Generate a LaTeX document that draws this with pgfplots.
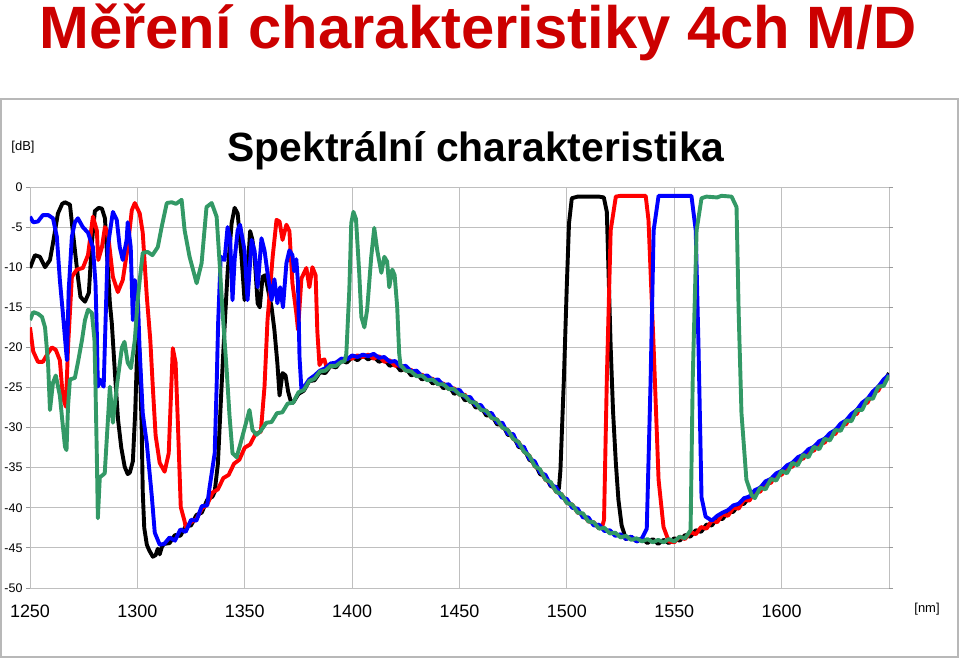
\documentclass[border=0pt]{standalone}
\usepackage{fontspec}
\setmainfont{Liberation Sans}
\usepackage{pgfplots}
\pgfplotsset{compat=1.18}
\definecolor{titlered}{RGB}{204,0,0}
\definecolor{sgreen}{RGB}{51,153,102}
\definecolor{sred}{RGB}{255,0,0}
\definecolor{sblue}{RGB}{0,0,255}
\begin{document}
\begin{tikzpicture}
\path (0,0) rectangle (960bp,660bp);
\draw[black!28, line width=1.5bp] (1bp,3bp) rectangle (958bp,561bp);
\node[text=titlered, font=\bfseries\fontsize{60}{60}\selectfont, anchor=base, inner sep=0pt] at (478bp,611bp) {Měření charakteristiky 4ch M/D};
\node[font=\bfseries\fontsize{41}{41}\selectfont, anchor=base] at (476bp,498bp) {Spektrální charakteristika};
\node[font=\fontsize{13}{13}\selectfont, anchor=base] at (23bp,509bp) {[dB]};
\node[font=\fontsize{13}{13}\selectfont, anchor=base] at (927bp,47bp) {[nm]};
\begin{axis}[
  at={(30bp,72bp)}, anchor=south west,
  scale only axis, width=859bp, height=401bp,
  xmin=1250, xmax=1650, ymin=-50, ymax=0,
  xtick={1250,1300,...,1650},
  xticklabels={1250,1300,1350,1400,1450,1500,1550,1600,{}},
  ytick={-50,-45,...,0},
  yticklabels={-50,-45,-40,-35,-30,-25,-20,-15,-10,-5,0},
  grid=major, major grid style={line width=0.8bp, draw=black!25},
  axis line style={draw=none},
  xtick style={draw=none},
  ytick style={draw=black!40, line width=0.8bp},
  tick align=outside, major tick length=4bp,
  xticklabel style={font=\fontsize{18}{18}\selectfont, yshift=-9bp},
  yticklabel style={font=\fontsize{12.5}{12.5}\selectfont},
  every axis plot/.append style={line width=3.9bp, line join=round, mark=none},
]
% black
\addplot[black] coordinates {
(1250,-10.1)(1252.3,-8.5)(1254.6,-8.7)(1257,-10)(1259.3,-9.1)(1260.7,-7)(1263,-3.3)(1265,-2.1)(1266.3,-1.9)(1268.6,-2.2)
(1270,-5.7)(1272.3,-11.2)(1273.5,-13.7)(1275.6,-14.3)(1277.4,-13.2)(1278.8,-7)(1280.2,-3.0)(1282,-2.6)(1283.5,-2.7)(1284.9,-3.9)
(1285.8,-8.0)(1287.2,-14.5)(1288.1,-17)(1289.5,-23)(1291,-29)(1292.5,-32.5)(1294.1,-34.9)(1295.5,-35.8)(1296.5,-35.6)(1297.9,-34.2)
(1299,-28)(1299.7,-22)(1300.3,-19)(1301,-20.5)(1302,-30)(1302.5,-38)(1303.2,-42.5)(1304.4,-44.6)(1305.5,-45.3)(1307.2,-46.1)
(1308.5,-45.9)(1309.5,-45.1)(1310.4,-45.8)(1311.5,-44.8)(1312.5,-44.5)(1315,-44.4)(1317.5,-43.4)(1320,-43.5)(1322.5,-42.3)(1325,-42.2)
(1327.5,-40.9)(1330,-40.6)(1332.5,-39.0)(1335,-38.6)(1336,-38.0)(1337.5,-34.5)(1339,-26)(1340.5,-18)(1342,-10.7)(1343.9,-4.5)
(1345.3,-2.6)(1346.7,-3.3)(1348.5,-8.7)(1349.9,-14.1)(1351.3,-10.7)(1352.5,-5.5)(1353.5,-6.5)(1354.6,-8.7)(1356,-14.5)(1357,-15.0)
(1358.3,-11.2)(1359.5,-11.0)(1361,-13)(1362.5,-15)(1363.8,-17.8)(1365.2,-22)(1366.2,-26)(1367.6,-23.2)(1369,-23.5)(1370.2,-25.5)
(1371.3,-26.6)(1372.5,-26.9)(1375,-25.8)(1377.5,-25.4)(1380,-24.2)(1382.5,-24.1)(1385,-23.1)(1387.5,-23.2)(1390,-22.3)(1392.5,-22.5)
(1395,-21.6)(1397.5,-21.9)(1400,-21.2)(1402.5,-21.6)(1405,-21.0)(1407.5,-21.5)(1410,-21.1)(1412.5,-21.8)(1415,-21.5)(1417.5,-22.3)
(1420,-22.0)(1422.5,-22.9)(1425,-22.6)(1427.5,-23.5)(1430,-23.2)(1432.5,-24.0)(1435,-23.7)(1437.5,-24.5)(1440,-24.2)(1442.5,-25.1)
(1445,-24.8)(1447.5,-25.8)(1450,-25.5)(1452.5,-26.6)(1455,-26.4)(1457.5,-27.5)(1460,-27.4)(1462.5,-28.5)(1465,-28.4)(1467.5,-29.6)
(1470,-29.6)(1472.5,-30.9)(1475,-31.0)(1477.5,-32.4)(1480,-32.6)(1482.5,-34.0)(1485,-34.4)(1487.5,-35.8)(1490,-36.1)(1492.5,-37.3)
(1495,-37.5)(1496.3,-37.6)(1497,-35.3)(1498.6,-24)(1500,-12)(1501,-4.5)(1502.3,-1.4)(1505,-1.2)(1510,-1.2)(1515,-1.2)
(1517.2,-1.3)(1518.6,-3.1)(1520.4,-20)(1521.5,-28)(1522.8,-34.4)(1524,-39)(1525.5,-42.2)(1527.5,-43.9)(1530,-43.6)(1532.5,-44.2)
(1535,-43.8)(1537.5,-44.4)(1540,-43.9)(1542.5,-44.5)(1545,-44.0)(1547.5,-44.4)(1550,-43.8)(1552.5,-44.1)(1555,-43.4)(1557.5,-43.6)
(1560,-42.8)(1562.5,-43.0)(1565,-42.1)(1567.5,-42.2)(1570,-41.3)(1572.5,-41.4)(1575,-40.5)(1577.5,-40.5)(1580,-39.6)(1582.5,-39.5)
(1585,-38.6)(1587.5,-38.5)(1590,-37.5)(1592.5,-37.4)(1595,-36.4)(1597.5,-36.3)(1600,-35.4)(1602.5,-35.3)(1605,-34.4)(1607.5,-34.3)
(1610,-33.4)(1612.5,-33.3)(1615,-32.4)(1617.5,-32.3)(1620,-31.4)(1622.5,-31.2)(1625,-30.3)(1627.5,-30.1)(1630,-29.1)(1632.5,-28.8)
(1635,-27.8)(1637.5,-27.5)(1640,-26.4)(1642.5,-26.0)(1645,-24.9)(1647.5,-24.5)(1650,-23.2)
};
% red
\addplot[sred] coordinates {
(1250,-17.5)(1251.5,-20.5)(1253.7,-21.8)(1256,-21.8)(1258.4,-20.7)(1260.2,-20.0)(1262,-20.3)(1263.9,-21.6)(1265.3,-26.2)(1266.7,-27.4)
(1267.7,-20)(1269.5,-11.2)(1271.8,-10.3)(1274.6,-10.1)(1277,-8.5)(1279.3,-3.7)(1281.1,-5.4)(1281.8,-9.1)(1283.5,-7.5)(1284.9,-5.0)
(1286.2,-5.6)(1288.6,-11.2)(1290.9,-13.1)(1293.2,-11.6)(1295.5,-7.5)(1297.4,-2.9)(1298.8,-2.0)(1301.1,-3.3)(1302.5,-5.7)(1304.4,-13.7)
(1306,-19)(1307.2,-25)(1308.5,-31)(1310.4,-34.4)(1312.7,-35.5)(1314.6,-33.2)(1315.8,-24.9)(1316.5,-20.1)(1317.8,-21.9)(1318.8,-29)
(1320.2,-39.9)(1322,-41.7)(1322.5,-42.4)(1325,-41.8)(1327.5,-41.4)(1330,-40.1)(1332.5,-39.6)(1335,-38.1)(1337.5,-37.7)(1340,-36.3)
(1342.5,-35.9)(1345,-34.5)(1347.5,-34.0)(1350,-32.5)(1352.5,-32.1)(1355,-30.8)(1357.5,-30.5)(1359.2,-24.9)(1360.6,-16.6)(1363,-8.7)
(1364.8,-4.1)(1366.2,-4.3)(1367.6,-6.6)(1369.4,-4.7)(1370.8,-5.5)(1372.2,-12)(1374,-15.7)(1374.8,-17.8)(1376.4,-11.4)(1378.7,-10.1)
(1380.1,-12.5)(1381.5,-10)(1383,-11)(1383.8,-18)(1384.8,-22.2)(1386,-21.6)(1387.1,-21.5)(1388.2,-22.6)(1390,-22.3)(1392.5,-21.9)
(1395,-21.8)(1397.5,-21.3)(1400,-21.4)(1402.5,-21.0)(1405,-21.2)(1407.5,-20.9)(1410,-21.4)(1412.5,-21.1)(1415,-21.8)(1417.5,-21.6)
(1420,-22.3)(1422.5,-22.2)(1425,-22.9)(1427.5,-22.8)(1430,-23.5)(1432.5,-23.4)(1435,-24.0)(1437.5,-23.9)(1440,-24.6)(1442.5,-24.5)
(1445,-25.2)(1447.5,-25.1)(1450,-25.9)(1452.5,-25.9)(1455,-26.8)(1457.5,-26.9)(1460,-27.8)(1462.5,-27.9)(1465,-28.8)(1467.5,-29.0)
(1470,-30.0)(1472.5,-30.3)(1475,-31.4)(1477.5,-31.8)(1480,-33.0)(1482.5,-33.5)(1485,-34.8)(1487.5,-35.3)(1490,-36.5)(1492.5,-36.9)
(1495,-38.0)(1497.5,-38.3)(1500,-39.4)(1502.5,-39.6)(1505,-40.6)(1507.5,-40.8)(1510,-41.7)(1512.5,-41.8)(1515,-42.6)(1516.5,-42.3)
(1517.3,-41.5)(1518.6,-24)(1520.4,-5.4)(1522.8,-1.2)(1525,-1.1)(1530,-1.1)(1536.7,-1.1)(1538,-4.1)(1540.4,-20)(1542.7,-36.5)
(1545,-42.4)(1547.5,-44.2)(1550,-44.3)(1552.5,-43.6)(1555,-43.9)(1557.5,-43.0)(1560,-43.3)(1562.5,-42.4)(1565,-42.6)(1567.5,-41.6)
(1570,-41.8)(1572.5,-40.8)(1575,-41.0)(1577.5,-40.0)(1580,-40.1)(1582.5,-39.0)(1585,-39.1)(1587.5,-38.0)(1590,-38.0)(1592.5,-36.9)
(1595,-36.9)(1597.5,-35.8)(1600,-35.9)(1602.5,-34.8)(1605,-34.9)(1607.5,-33.8)(1610,-33.9)(1612.5,-32.8)(1615,-32.9)(1617.5,-31.8)
(1620,-31.9)(1622.5,-30.8)(1625,-30.8)(1627.5,-29.6)(1630,-29.6)(1632.5,-28.4)(1635,-28.3)(1637.5,-27.0)(1640,-26.9)(1642.5,-25.6)
(1645,-25.4)(1647.5,-24.1)(1650,-23.8)
};
% blue
\addplot[sblue] coordinates {
(1250,-3.7)(1251.5,-4.4)(1253.7,-4.3)(1256,-3.5)(1258.5,-3.5)(1260.7,-3.9)(1262.5,-6.2)(1263.9,-11.6)(1265.3,-15.7)(1266.5,-19.5)
(1267.2,-21.6)(1268,-13)(1269.5,-6.2)(1270.9,-4.4)(1272.3,-3.9)(1274.6,-5.0)(1277,-5.7)(1279.3,-7.5)(1280.5,-12)(1281.1,-18)
(1281.6,-24.9)(1282.5,-24)(1283.5,-24.5)(1284.3,-24.9)(1285.3,-15.7)(1286.2,-7.5)(1288.6,-3.1)(1290.4,-4.1)(1291.8,-7.5)(1293.2,-9.1)
(1295,-6.6)(1295.5,-4.4)(1296.9,-7.5)(1297.9,-16.6)(1298.8,-11.6)(1300.2,-13.7)(1301,-20)(1302.5,-28.2)(1304.4,-32)(1306.7,-38.5)
(1308.1,-43.1)(1310.4,-44.6)(1312.5,-44.5)(1315,-43.7)(1317.5,-44.1)(1320,-42.7)(1322.5,-43.0)(1325,-41.5)(1327.5,-41.6)(1330,-39.8)
(1332.5,-39.7)(1333.6,-37.5)(1336,-33.2)(1336.9,-24.9)(1337.6,-17)(1338.8,-8.7)(1340.6,-9.1)(1342,-5.0)(1343.2,-6.5)(1344.3,-14.1)
(1345.3,-9)(1346.7,-5.4)(1347.8,-4.7)(1349.9,-7.9)(1351.3,-14.1)(1353.2,-6.6)(1354.6,-8.0)(1356,-12.5)(1357.8,-6.4)(1359.2,-7.9)
(1360.6,-10.7)(1362.5,-14.1)(1363.8,-11.5)(1365.2,-14.5)(1366.5,-12.5)(1367.8,-15)(1369.4,-9.5)(1370.8,-7.9)(1372.2,-8.5)(1373,-10.5)
(1374,-9.0)(1374.8,-12)(1375.5,-21.2)(1376.4,-25.3)(1377.5,-25.0)(1380,-24.0)(1382.5,-23.5)(1385,-22.9)(1387.5,-22.6)(1390,-22.0)
(1392.5,-21.9)(1395,-21.4)(1397.5,-21.5)(1400,-21.0)(1402.5,-21.2)(1405,-20.9)(1407.5,-21.1)(1410,-20.8)(1412.5,-21.3)(1415,-21.2)
(1417.5,-21.8)(1420,-21.7)(1422.5,-22.4)(1425,-22.3)(1427.5,-23.0)(1430,-22.9)(1432.5,-23.6)(1435,-23.5)(1437.5,-24.1)(1440,-24.0)
(1442.5,-24.7)(1445,-24.6)(1447.5,-25.4)(1450,-25.3)(1452.5,-26.2)(1455,-26.2)(1457.5,-27.2)(1460,-27.2)(1462.5,-28.2)(1465,-28.2)
(1467.5,-29.4)(1470,-29.4)(1472.5,-30.8)(1475,-30.8)(1477.5,-32.3)(1480,-32.4)(1482.5,-33.9)(1485,-34.2)(1487.5,-35.6)(1490,-35.9)
(1492.5,-37.2)(1495,-37.4)(1497.5,-38.7)(1500,-38.9)(1502.5,-40.0)(1505,-40.1)(1507.5,-41.2)(1510,-41.2)(1512.5,-42.2)(1515,-42.1)
(1517.5,-42.9)(1520,-42.8)(1522.5,-43.5)(1525,-43.3)(1527.5,-43.9)(1530,-43.6)(1532.5,-44.2)(1535,-43.8)(1537.2,-42.6)(1539,-24)
(1540.4,-5.4)(1542.7,-1.1)(1545,-1.1)(1550,-1.1)(1555,-1.1)(1558,-1.1)(1560,-5.4)(1561.3,-20)(1562.7,-38.7)(1564.6,-41.1)
(1567.5,-41.6)(1570,-41.0)(1572.5,-40.6)(1575,-40.3)(1577.5,-39.7)(1580,-39.5)(1582.5,-38.8)(1585,-38.6)(1587.5,-37.8)(1590,-37.5)
(1592.5,-36.7)(1595,-36.4)(1597.5,-35.7)(1600,-35.4)(1602.5,-34.7)(1605,-34.4)(1607.5,-33.7)(1610,-33.4)(1612.5,-32.7)(1615,-32.4)
(1617.5,-31.7)(1620,-31.4)(1622.5,-30.7)(1625,-30.3)(1627.5,-29.5)(1630,-29.1)(1632.5,-28.3)(1635,-27.8)(1637.5,-26.9)(1640,-26.4)
(1642.5,-25.5)(1645,-24.9)(1647.5,-24.0)(1650,-23.4)
};
% green
\addplot[sgreen] coordinates {
(1250,-16.6)(1251.5,-15.6)(1253.7,-15.8)(1255.6,-16.2)(1257,-17.5)(1258.4,-21.9)(1259.3,-27.8)(1260.7,-24.4)(1262,-23.5)(1263.9,-26)
(1265,-29)(1266.3,-32.4)(1267,-32.8)(1267.7,-27.4)(1268.6,-24.0)(1270.9,-23.8)(1272.3,-21.9)(1274.2,-19.1)(1275.6,-16.6)(1277,-15.3)
(1278.8,-15.7)(1280,-19)(1280.5,-24.9)(1281.1,-33.2)(1281.6,-41.3)(1282.5,-36.2)(1283.5,-36.0)(1284.8,-35.7)(1285.8,-31.2)(1287.2,-24.9)
(1288.6,-29.4)(1290.4,-24.9)(1292.8,-20.0)(1294,-19.3)(1295.5,-21.9)(1297,-22.6)(1298.8,-19.1)(1300.2,-14)(1301.1,-11.6)(1302.5,-8.2)
(1304.8,-8.1)(1307,-8.5)(1309.5,-7.5)(1311.3,-5.0)(1313.7,-2.0)(1316,-1.9)(1318,-2.1)(1320.6,-1.6)(1322,-5.4)(1324.3,-8.7)
(1327.6,-12.0)(1329.9,-9.5)(1332.2,-2.5)(1334.6,-2.0)(1336.9,-3.7)(1338.3,-9.5)(1339.7,-15.7)(1341.5,-22.5)(1342.9,-28.5)(1344.3,-33.2)
(1346.2,-33.7)(1347.6,-32.4)(1350,-30.0)(1352.2,-27.8)(1353.6,-30.3)(1355.5,-30.9)(1357.5,-30.4)(1360,-29.4)(1362.5,-29.3)(1365,-28.2)
(1367.5,-28.1)(1370,-27.0)(1372.5,-26.9)(1375,-25.6)(1377.5,-25.3)(1380,-24.2)(1382.5,-23.9)(1385,-23.0)(1387.5,-22.9)(1390,-22.3)
(1392.5,-22.3)(1395,-21.8)(1396.5,-21.7)(1397.3,-20.8)(1398.7,-12.8)(1399.6,-4.5)(1400.6,-3.1)(1401.8,-4.0)(1403.3,-10.7)(1404.3,-16.2)
(1405.7,-17.5)(1407,-15.3)(1408.9,-8.7)(1410.3,-5.1)(1411.7,-7.9)(1413.6,-10.7)(1415,-8.7)(1416.3,-9.3)(1417.3,-12.5)(1418.7,-10.3)
(1419.8,-11.0)(1421,-15)(1421.9,-20.7)(1422.5,-22.2)(1425,-22.9)(1427.5,-23.0)(1430,-23.6)(1432.5,-23.5)(1435,-24.1)(1437.5,-24.0)
(1440,-24.6)(1442.5,-24.6)(1445,-25.2)(1447.5,-25.2)(1450,-25.9)(1452.5,-26.0)(1455,-26.8)(1457.5,-26.9)(1460,-27.8)(1462.5,-27.9)
(1465,-28.8)(1467.5,-29.0)(1470,-30.0)(1472.5,-30.3)(1475,-31.4)(1477.5,-31.8)(1480,-33.0)(1482.5,-33.5)(1485,-34.8)(1487.5,-35.2)
(1490,-36.5)(1492.5,-36.8)(1495,-38.0)(1497.5,-38.3)(1500,-39.4)(1502.5,-39.6)(1505,-40.6)(1507.5,-40.7)(1510,-41.7)(1512.5,-41.8)
(1515,-42.6)(1517.5,-42.5)(1520,-43.2)(1522.5,-43.1)(1525,-43.7)(1527.5,-43.5)(1530,-44.0)(1532.5,-43.8)(1535,-44.2)(1537.5,-43.9)
(1540,-44.3)(1542.5,-44.0)(1545,-44.3)(1547.5,-43.9)(1550,-44.2)(1552.5,-43.6)(1555,-43.8)(1557.6,-42.8)(1558.6,-24)(1560.4,-5.4)
(1562.7,-1.4)(1565,-1.2)(1570,-1.3)(1572,-1.1)(1576.7,-1.2)(1579,-2.5)(1580,-15.7)(1581.3,-28.2)(1583.6,-36.5)(1586,-38.4)
(1587.5,-38.8)(1590,-37.5)(1592.5,-37.7)(1595,-36.4)(1597.5,-36.6)(1600,-35.4)(1602.5,-35.7)(1605,-34.4)(1607.5,-34.7)(1610,-33.4)
(1612.5,-33.7)(1615,-32.4)(1617.5,-32.7)(1620,-31.4)(1622.5,-31.6)(1625,-30.3)(1627.5,-30.4)(1630,-29.1)(1632.5,-29.2)(1635,-27.8)
(1637.5,-27.8)(1640,-26.4)(1642.5,-26.4)(1645,-24.9)(1647.5,-24.8)(1650,-23.5)
};
\end{axis}
\end{tikzpicture}
\end{document}
